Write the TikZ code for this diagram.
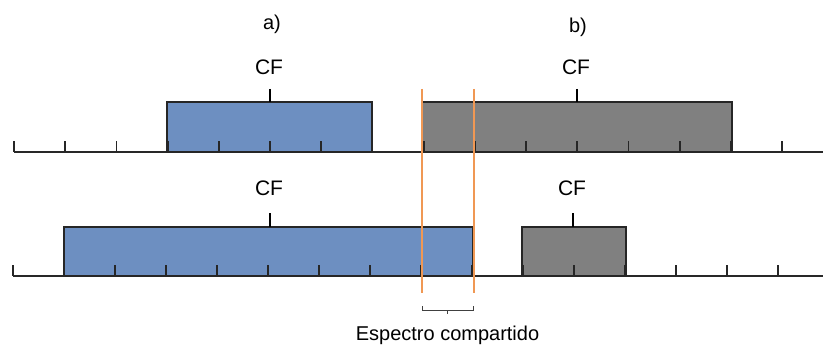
\documentclass[tikz,border=0pt]{standalone}
\usepackage{fontspec}
\setmainfont{Liberation Sans}
\definecolor{bandblue}{RGB}{109,143,193}
\definecolor{bandgrey}{RGB}{128,128,128}
\definecolor{sharedorange}{RGB}{240,152,84}
\definecolor{axisgrey}{RGB}{40,40,40}
\begin{document}
\begin{tikzpicture}[x=1pt,y=-1pt,
  lbl/.style={inner sep=0pt, anchor=base, font=\fontsize{20}{22}\selectfont},
  axisline/.style={draw=axisgrey, line width=1.4pt},
  tickmark/.style={draw=black!85, line width=1.8pt},
  cftick/.style={draw=black, line width=2.8pt},
  bandbox/.style={draw=black!85, line width=2pt},
  limit/.style={draw=sharedorange, line width=1.8pt}]
\useasboundingbox (0,0) rectangle (823,345);
\fill[white] (0,0) rectangle (823,345);
% top row
\draw[axisline] (14,152) -- (823,152);
\draw[bandbox, fill=bandblue] (167,102) rectangle (372,152);
\draw[bandbox, fill=bandgrey] (422,102) rectangle (732,152);
\foreach \i in {0,...,15} \draw[tickmark] ({14+51.2*\i},141) -- ({14+51.2*\i},152);
\draw[cftick] (270,89) -- (270,102);
\draw[cftick] (577,89) -- (577,102);
% bottom row
\draw[axisline] (13,276) -- (823,276);
\draw[bandbox, fill=bandblue] (64,227) rectangle (473,276);
\draw[bandbox, fill=bandgrey] (522,227) rectangle (626,276);
\foreach \i in {0,...,15} \draw[tickmark] ({13+51*\i},265) -- ({13+51*\i},276);
\draw[cftick] (270,213) -- (270,227);
\draw[cftick] (573,213) -- (573,227);
% shared spectrum limits
\coordinate (l1t) at (422,89); \coordinate (l1b) at (422,293);
\coordinate (l2t) at (474,89); \coordinate (l2b) at (474,293);
\draw[limit] (l1t) -- (l1b);
\draw[limit] (l2t) -- (l2b);
% bracket
\draw[black!75, line width=1pt] (422,306) -- (422,310) -- (473,310) -- (473,306);
\draw[black!75, line width=1pt] (447,310) -- (447,314);
% labels
\node[lbl] (la) at (272,30) {a)};
\node[lbl] (lb) at (578,33) {b)};
\node[lbl, font=\fontsize{21}{23}\selectfont] (cf1) at (269,75) {CF};
\node[lbl, font=\fontsize{21}{23}\selectfont] (cf2) at (576,75) {CF};
\node[lbl, font=\fontsize{21}{23}\selectfont] (cf3) at (269,195) {CF};
\node[lbl, font=\fontsize{21}{23}\selectfont] (cf4) at (572,195) {CF};
\node[lbl] (shared) at (447.5,340) {Espectro compartido};
\end{tikzpicture}
\end{document}
